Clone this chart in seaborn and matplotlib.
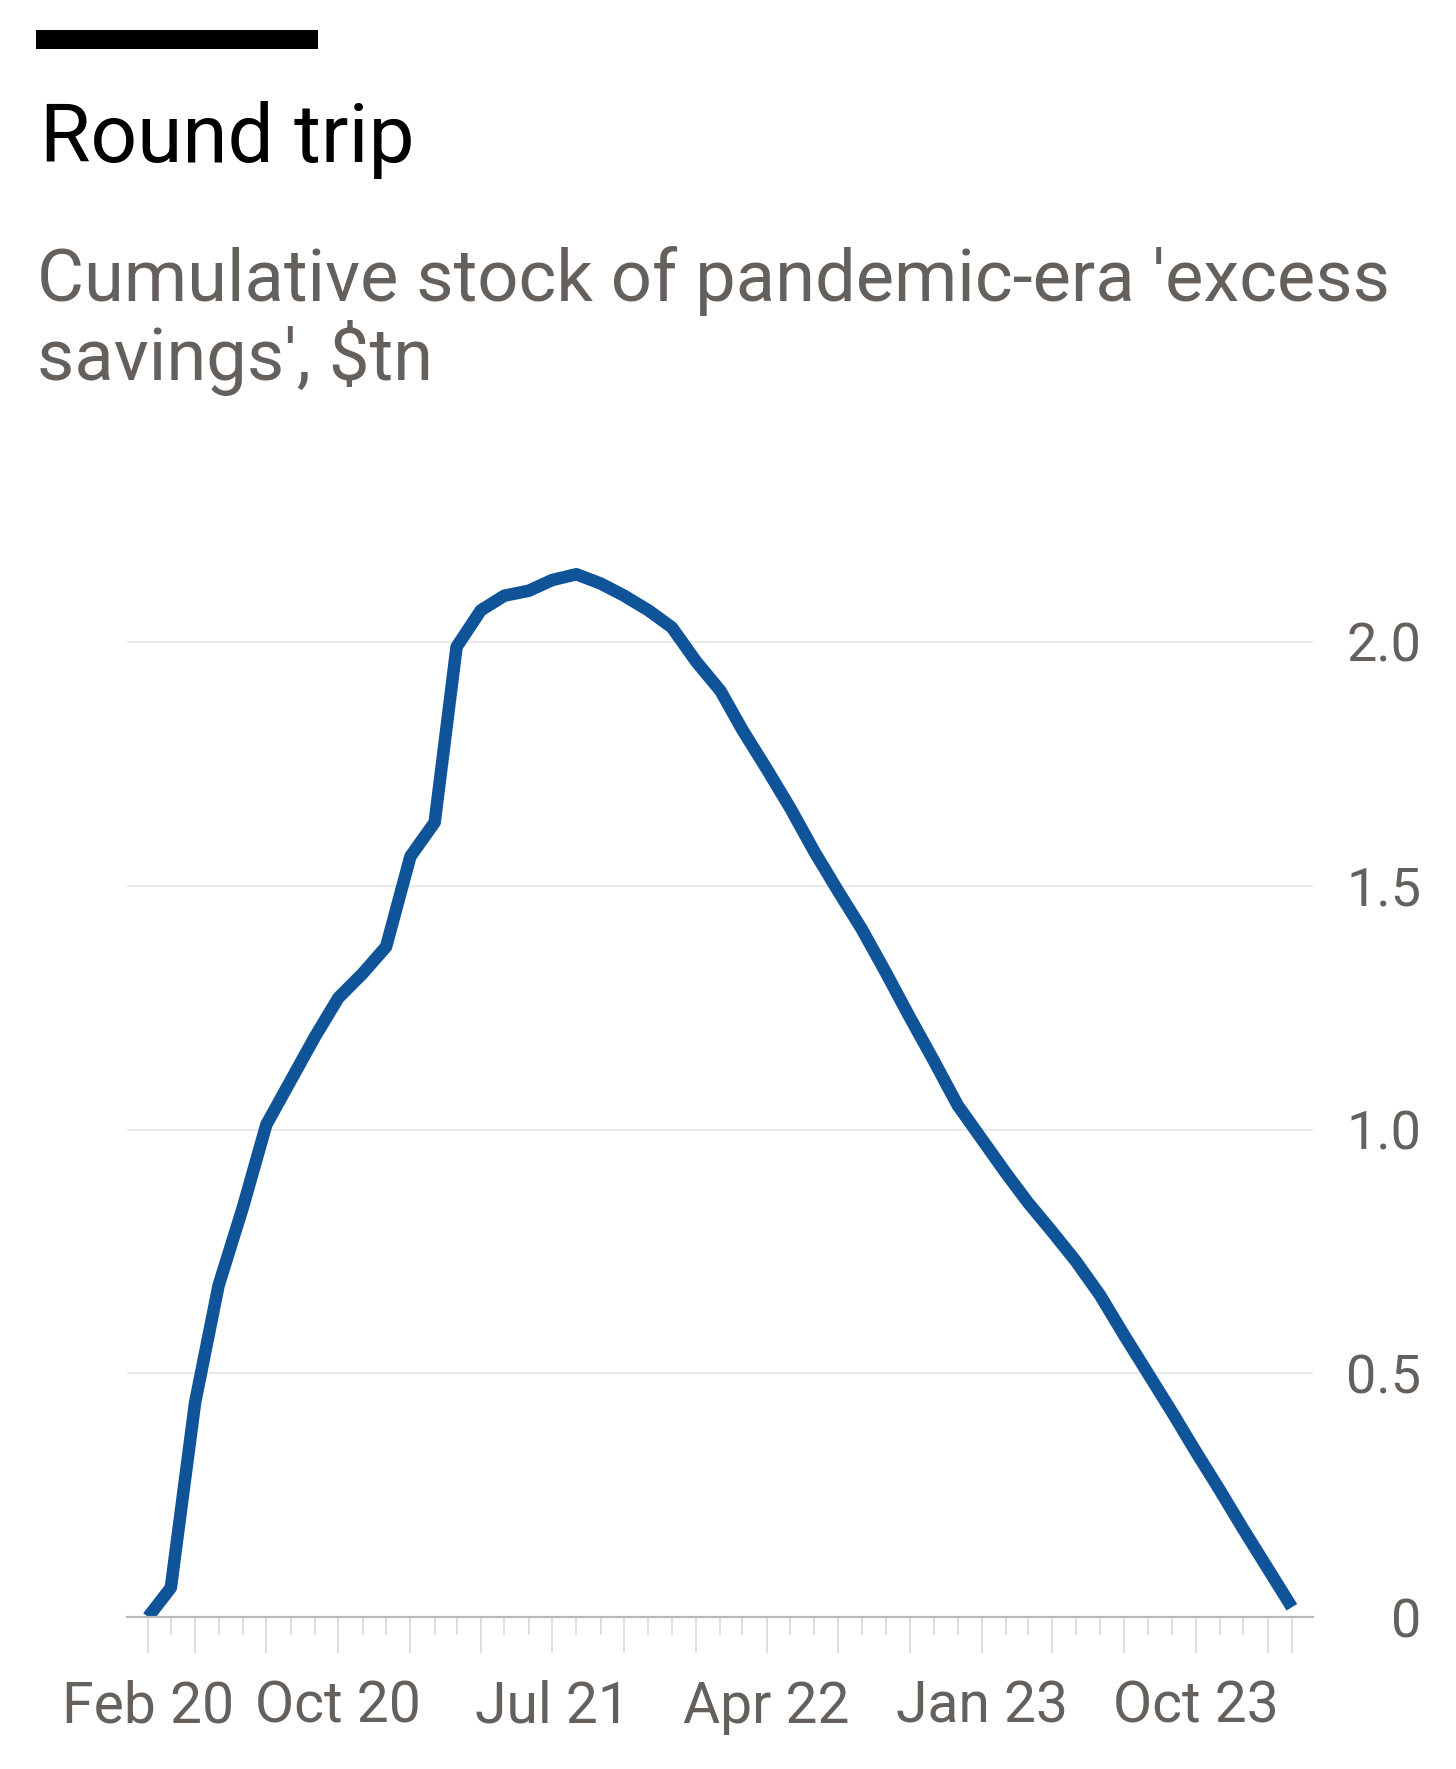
import pandas as pd
import matplotlib.pyplot as plt
import matplotlib.dates as mdates
from matplotlib.patches import Rectangle
import seaborn as sns

# -----------------------------
# DATA
# -----------------------------

start_month = '2020-02-01'

savings = [0.00, 0.06, 0.44, 0.68, 0.84, 1.01, 1.10, 1.19, 1.27, 1.32,
           1.375, 1.56, 1.63, 1.99, 2.065, 2.095, 2.105, 2.127, 2.139, 2.12,
           2.095, 2.065, 2.03, 1.96, 1.90, 1.82, 1.74, 1.66, 1.57, 1.49,
           1.41, 1.32, 1.23, 1.14, 1.05, 0.98, 0.91, 0.85, 0.79, 0.73,
           0.66, 0.58, 0.50, 0.42, 0.34, 0.26, 0.18, 0.10, 0.02]

x_label_dates = ['2020-02-01', '2020-10-01', '2021-07-01',
                 '2022-04-01', '2023-01-01', '2023-10-01']
x_labels = ['Feb 20', 'Oct 20', 'Jul 21', 'Apr 22', 'Jan 23', 'Oct 23']

y_ticks = [0, 0.5, 1.0, 1.5, 2.0]
y_labels = ['0', '0.5', '1.0', '1.5', '2.0']

title = 'Round trip'
subtitle_1 = "Cumulative stock of pandemic-era 'excess"
subtitle_2 = "savings', $tn"

df = pd.DataFrame({
    'date': pd.date_range(start_month, periods=len(savings), freq='MS'),
    'value': savings,
})

# -----------------------------
# STYLE
# -----------------------------

sns.set_theme(style='white')
plt.rcParams['font.family'] = ['Roboto', 'DejaVu Sans']

W, H = 1456, 1769
fig = plt.figure(figsize=(W / 100, H / 100), dpi=100)
fig.patch.set_facecolor('white')

# axes placed in pixel terms
ax_left, ax_right = 127, 1313
ax_bottom, y_max = 1617, 2.2
px_per_unit = 975 / 2.0
ax_top = ax_bottom - y_max * px_per_unit
ax = fig.add_axes([ax_left / W, 1 - ax_bottom / H,
                   (ax_right - ax_left) / W, (ax_bottom - ax_top) / H])
ax.set_facecolor('white')

# -----------------------------
# LINE
# -----------------------------

sns.lineplot(data=df, x='date', y='value', ax=ax, color='#0f5499',
             linewidth=9, solid_capstyle='butt', solid_joinstyle='round')

ax.set_xlim(df['date'].iloc[0] - pd.Timedelta(days=27),
            df['date'].iloc[-1] + pd.Timedelta(days=27))
ax.set_ylim(0, y_max)
ax.set_xlabel('')
ax.set_ylabel('')

# -----------------------------
# AXES
# -----------------------------

for side in ['top', 'left', 'right']:
    ax.spines[side].set_visible(False)
ax.spines['bottom'].set_color('#b8b8b8')
ax.spines['bottom'].set_linewidth(1.6)

# y axis on the right, labels right aligned
ax.yaxis.tick_right()
ax.set_yticks(y_ticks, labels=y_labels, ha='right')
ax.tick_params(axis='y', length=0, pad=78, labelsize=39, labelcolor='#66605c')
ax.grid(axis='y', color='#e6e6e6', linewidth=1.2)
ax.set_axisbelow(True)

# x ticks: long ticks at quarters and ends, short ticks every month
months = list(df['date'])
major = [d for d in months
         if d.month in (1, 4, 7, 10) or d == months[0] or d == months[-1]]
label_dates = pd.to_datetime(x_label_dates)
major_labels = []
for d in major:
    if d in label_dates:
        major_labels.append(x_labels[list(label_dates).index(d)])
    else:
        major_labels.append('')

ax.set_xticks(mdates.date2num(major), labels=major_labels)
ax.set_xticks(mdates.date2num(months), minor=True)
ax.tick_params(axis='x', which='major', length=26, width=1.1, color='#d4d4d4',
               pad=19, labelsize=41, labelcolor='#66605c', direction='out')
ax.tick_params(axis='x', which='minor', length=13, width=1.1, color='#d4d4d4',
               direction='out')
ax.tick_params(axis='x', bottom=True, which='both')

# -----------------------------
# TITLES
# -----------------------------

fig.add_artist(Rectangle((36 / W, 1 - 49 / H), (318 - 36) / W, 19 / H,
                         transform=fig.transFigure, color='black', lw=0))
fig.text(40 / W, 1 - 162 / H, title, fontsize=59, color='#000000',
         va='baseline', ha='left')
fig.text(37 / W, 1 - 301 / H, subtitle_1, fontsize=52, color='#66605c',
         va='baseline', ha='left')
fig.text(37 / W, 1 - 380 / H, subtitle_2, fontsize=52, color='#66605c',
         va='baseline', ha='left')

plt.savefig('out.png', dpi=100, facecolor='white')
